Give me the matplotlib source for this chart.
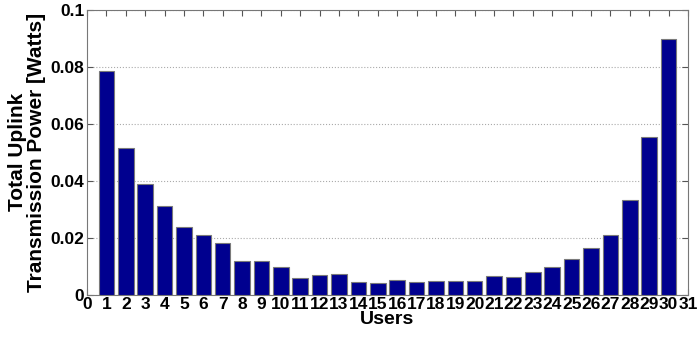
import matplotlib
matplotlib.use("Agg")
import matplotlib.pyplot as plt
import numpy as np

users = list(range(1, 31))
power = [0.0786, 0.0515, 0.0388, 0.0312, 0.0238, 0.0208, 0.0181, 0.0119, 0.0117, 0.0098,
         0.0060, 0.0068, 0.0074, 0.0044, 0.0041, 0.0050, 0.0043, 0.0048, 0.0047, 0.0048,
         0.0065, 0.0061, 0.0078, 0.0098, 0.0125, 0.0164, 0.0211, 0.0331, 0.0553, 0.0897]
xticks = list(range(0, 32))
yticks = [0, 0.02, 0.04, 0.06, 0.08, 0.1]
ytick_labels = ["0", "0.02", "0.04", "0.06", "0.08", "0.1"]

plt.rcParams['font.family'] = ['Liberation Sans', 'DejaVu Sans']
plt.rcParams['font.weight'] = 'bold'

fig = plt.figure(figsize=(6.97, 3.40), dpi=100)
ax = fig.add_axes([0.1248, 0.1333, 0.8622, 0.8387])
ax.bar(users, power, width=0.8, color='#00008f', edgecolor='#7a7a7a', linewidth=0.8, zorder=3)
ax.set_xlim(0, 31)
ax.set_ylim(0, 0.1)
ax.set_xticks(xticks)
ax.set_xticklabels([str(t) for t in xticks], fontsize=12.5, fontweight='bold')
ax.set_yticks(yticks)
ax.set_yticklabels(ytick_labels, fontsize=12.5, fontweight='bold')
ax.tick_params(direction='in', top=True, right=True, length=4, color='#555555', pad=2)
ax.grid(axis='y', linestyle=':', color='#aaaaaa', linewidth=0.8, zorder=0)
for s in ax.spines.values():
    s.set_color('#777777')
ax.set_xlabel('Users', fontsize=14, fontweight='bold', labelpad=-1)
ax.set_ylabel('Total Uplink\nTransmission Power [Watts]', fontsize=15, fontweight='bold',
              labelpad=3, linespacing=1.0)
fig.savefig('out.png', dpi=100)
